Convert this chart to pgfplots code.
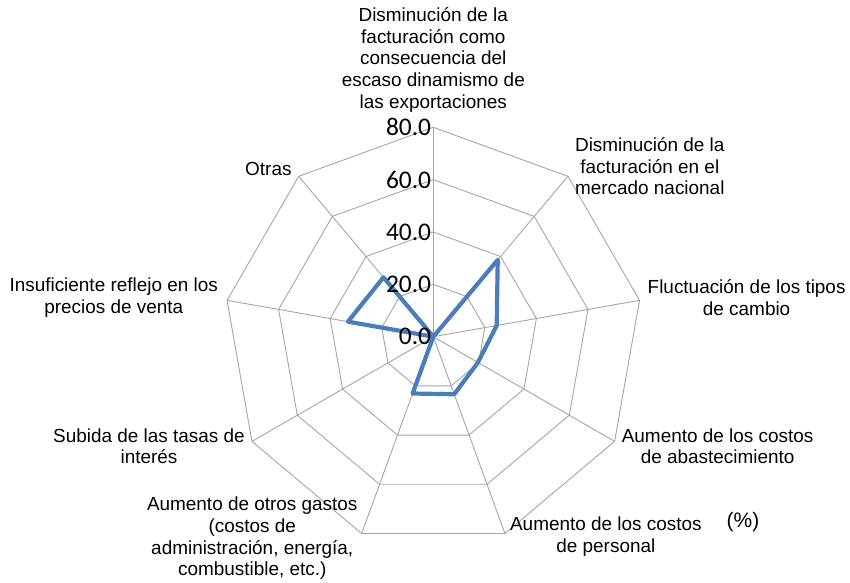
\documentclass[border=0pt]{standalone}
\usepackage{pgfplots}
\pgfplotsset{compat=1.18}
\usepgfplotslibrary{polar}
\usepackage{fontspec}
\setmainfont{Liberation Sans}
\newfontfamily\tickfont{Carlito}
\definecolor{webgray}{RGB}{165,165,165}
\definecolor{radarblue}{RGB}{74,126,187}
\tikzset{
  lbl/.style={font=\fontsize{19}{21.7}\selectfont, align=center, inner sep=0pt},
  rtick/.style={font=\tickfont\fontsize{25.5}{30}\selectfont, inner sep=0pt, anchor=east, xshift=-2bp},
}

\begin{document}
\begin{tikzpicture}
\begin{polaraxis}[
  scale only axis, width=418.8bp, height=418.8bp,
  ymin=0, ymax=80, hide axis, clip=false,
]
% spokes
\addplot[webgray, line width=0.9bp] coordinates {(90,0)(90,80)};
\addplot[webgray, line width=0.9bp] coordinates {(50,0)(50,80)};
\addplot[webgray, line width=0.9bp] coordinates {(10,0)(10,80)};
\addplot[webgray, line width=0.9bp] coordinates {(330,0)(330,80)};
\addplot[webgray, line width=0.9bp] coordinates {(290,0)(290,80)};
\addplot[webgray, line width=0.9bp] coordinates {(250,0)(250,80)};
\addplot[webgray, line width=0.9bp] coordinates {(210,0)(210,80)};
\addplot[webgray, line width=0.9bp] coordinates {(170,0)(170,80)};
\addplot[webgray, line width=0.9bp] coordinates {(130,0)(130,80)};
% rings
\addplot[webgray, line width=0.9bp] coordinates {(90,20)(50,20)(10,20)(330,20)(290,20)(250,20)(210,20)(170,20)(130,20)(90,20)};
\addplot[webgray, line width=0.9bp] coordinates {(90,40)(50,40)(10,40)(330,40)(290,40)(250,40)(210,40)(170,40)(130,40)(90,40)};
\addplot[webgray, line width=0.9bp] coordinates {(90,60)(50,60)(10,60)(330,60)(290,60)(250,60)(210,60)(170,60)(130,60)(90,60)};
\addplot[webgray, line width=0.9bp] coordinates {(90,80)(50,80)(10,80)(330,80)(290,80)(250,80)(210,80)(170,80)(130,80)(90,80)};
% series
\addplot[radarblue, line width=4.2bp, line join=round] coordinates {
  (90,0)(50,38.3)(10,24.6)(330,19.7)(290,23.4)(250,23.1)(210,0)(170,33.1)(130,29.6)(90,0)};

\coordinate (C) at (axis cs:0,0);
\node[rtick] at (axis cs:90,0) {0.0};
\node[rtick] at (axis cs:90,20) {20.0};
\node[rtick] at (axis cs:90,40) {40.0};
\node[rtick] at (axis cs:90,60) {60.0};
\node[rtick] at (axis cs:90,80) {80.0};

\node[lbl, anchor=south, yshift=15bp] at (axis cs:90,80) {Disminución de la\\facturación como\\consecuencia del\\escaso dinamismo de\\las exportaciones};
\node[lbl, anchor=west, xshift=7bp, yshift=10bp] at (axis cs:50,80) {Disminución de la\\facturación en el\\mercado nacional};
\node[lbl, anchor=west, xshift=8bp, yshift=3bp] at (axis cs:10,80) {Fluctuación de los tipos\\de cambio};
\node[lbl, anchor=west, xshift=7bp, yshift=-5bp] at (axis cs:330,80) {Aumento de los costos\\de abastecimiento};
\node[lbl, anchor=west, xshift=5bp, yshift=-3bp] at (axis cs:290,80) {Aumento de los costos\\de personal};
\node[lbl, anchor=east, xshift=-4bp, yshift=-5bp] at (axis cs:250,80) {Aumento de otros gastos\\(costos de\\administración, energía,\\combustible, etc.)};
\node[lbl, anchor=east, xshift=-7bp, yshift=-5bp] at (axis cs:210,80) {Subida de las tasas de\\interés};
\node[lbl, anchor=east, xshift=-9bp, yshift=3bp] at (axis cs:170,80) {Insuficiente reflejo en los\\precios de venta};
\node[lbl, anchor=east, xshift=-7bp, yshift=7bp] at (axis cs:130,80) {Otras};
\node[lbl, font=\fontsize{21}{24}\selectfont, xshift=309.7bp, yshift=-185.3bp] at (axis cs:0,0) {(\%)};
\end{polaraxis}
\pgfresetboundingbox
\path (C) ++(-433.3bp,-246.3bp) rectangle ++(850bp,583bp);
\end{tikzpicture}
\end{document}
